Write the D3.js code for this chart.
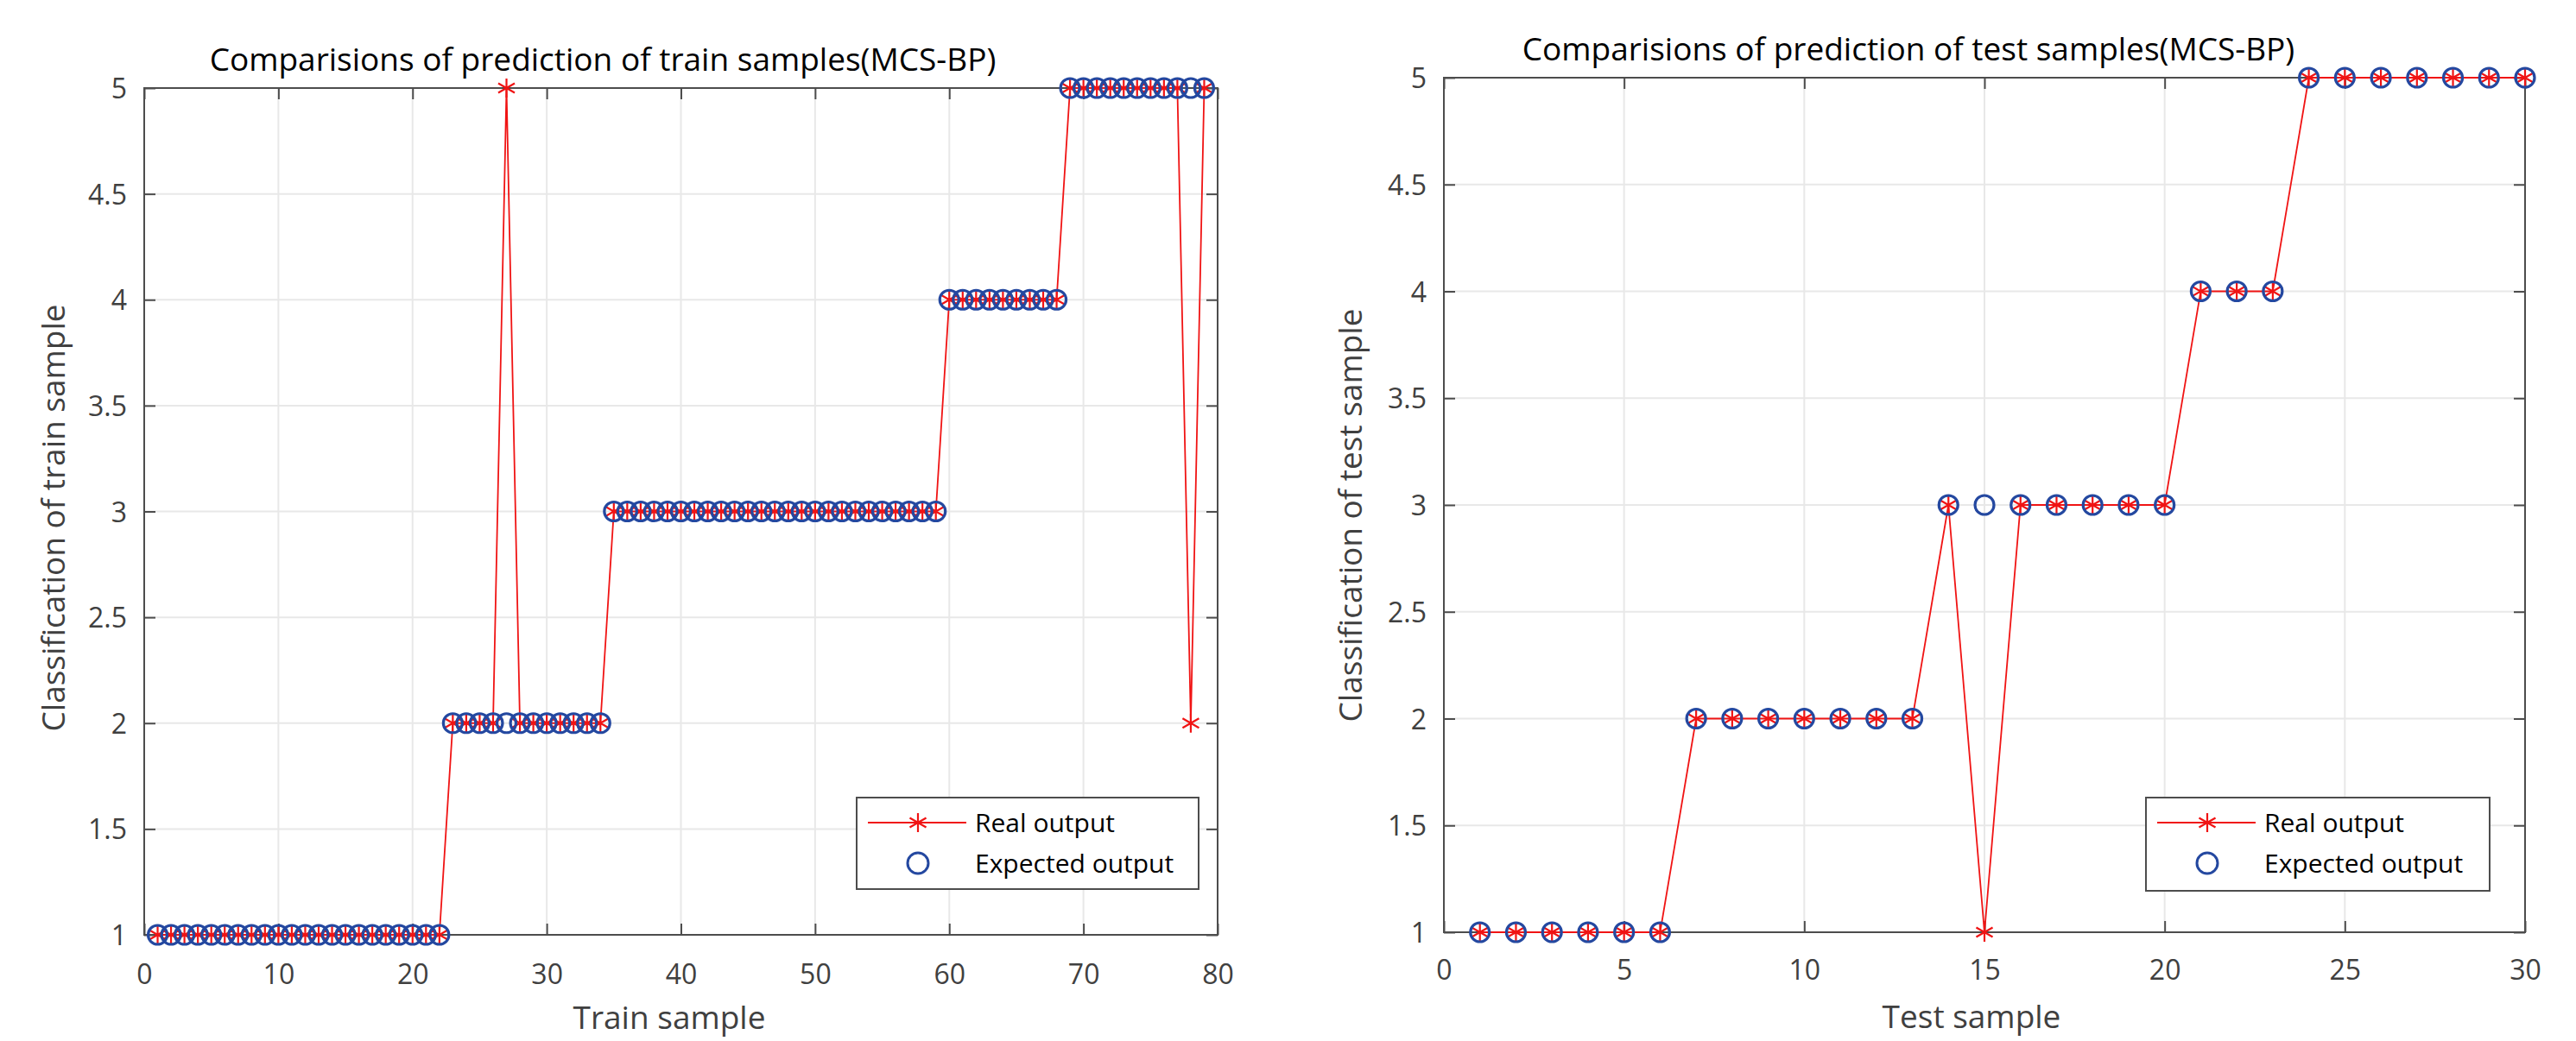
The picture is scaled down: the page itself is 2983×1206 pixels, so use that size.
<!DOCTYPE html>
<html><head><meta charset="utf-8">
<script src="https://cdn.jsdelivr.net/npm/d3@7"></script>
<style>
html,body{margin:0;padding:0;background:#fff;}
svg text{font-family:"Open Sans","Noto Sans",sans-serif;}
</style></head>
<body>
<svg id="chart" width="2983" height="1206"></svg>
<script>
// ---------- data ----------
const trainTitle = "Comparisions of prediction of train samples(MCS-BP)";
const testTitle = "Comparisions of prediction of test samples(MCS-BP)";
const trainXLabel = "Train sample";
const testXLabel = "Test sample";
const trainYLabel = "Classification of train sample";
const testYLabel = "Classification of test sample";
const legendLabels = ["Real output", "Expected output"];

const trainExpected = [
  1,1,1,1,1,1,1,1,1,1, 1,1,1,1,1,1,1,1,1,1, 1,1,
  2,2,2,2,2,2,2,2,2,2,2,2,
  3,3,3,3,3,3,3,3,3,3, 3,3,3,3,3,3,3,3,3,3, 3,3,3,3,3,
  4,4,4,4,4,4,4,4,4,
  5,5,5,5,5,5,5,5,5,5,5
];
const trainReal = [
  1,1,1,1,1,1,1,1,1,1, 1,1,1,1,1,1,1,1,1,1, 1,1,
  2,2,2,2,5,2,2,2,2,2,2,2,
  3,3,3,3,3,3,3,3,3,3, 3,3,3,3,3,3,3,3,3,3, 3,3,3,3,3,
  4,4,4,4,4,4,4,4,4,
  5,5,5,5,5,5,5,5,5,2,5
];
const testExpected = [
  1,1,1,1,1,1,
  2,2,2,2,2,2,2,
  3,3,3,3,3,3,3,
  4,4,4,
  5,5,5,5,5,5,5
];
const testReal = [
  1,1,1,1,1,1,
  2,2,2,2,2,2,2,
  3,1,3,3,3,3,3,
  4,4,4,
  5,5,5,5,5,5,5
];
const trainXTicks = [0,10,20,30,40,50,60,70,80];
const testXTicks = [0,5,10,15,20,25,30];
const yTicks = [1,1.5,2,2.5,3,3.5,4,4.5,5];

// ---------- style ----------
const RED = "#f01414";
const BLUE = "#2448a0";
const AXIS = "#4d4d4d";
const GRID = "#e8e8e8";
const TXT = "#404040";

const svg = d3.select("#chart");

function starPath(r){
  const a = Math.PI/6;
  const dx = r*Math.cos(a), dy = r*Math.sin(a);
  return `M0,${-r}L0,${r}M${-dx},${-dy}L${dx},${dy}M${-dx},${dy}L${dx},${-dy}`;
}

function panel(cfg){
  const g = svg.append("g");
  const x = d3.scaleLinear().domain(cfg.xDomain).range([cfg.x0, cfg.x1]);
  const y = d3.scaleLinear().domain([1,5]).range([cfg.y1, cfg.y0]);

  // grid
  g.append("g").selectAll("line.vg").data(cfg.xTicks).join("line")
    .attr("x1", d=>x(d)).attr("x2", d=>x(d)).attr("y1", cfg.y0).attr("y2", cfg.y1)
    .attr("stroke", GRID).attr("stroke-width", 2);
  g.append("g").selectAll("line.hg").data(yTicks).join("line")
    .attr("y1", d=>y(d)).attr("y2", d=>y(d)).attr("x1", cfg.x0).attr("x2", cfg.x1)
    .attr("stroke", GRID).attr("stroke-width", 2);

  // axes with inward ticks
  const tl = 13;
  const xb = g.append("g").attr("transform", `translate(0,${cfg.y1})`)
    .call(d3.axisBottom(x).tickValues(cfg.xTicks).tickSizeInner(-tl).tickSizeOuter(0).tickPadding(0).tickFormat(d3.format("d")));
  xb.select(".domain").remove();
  xb.selectAll("line").attr("stroke", AXIS).attr("stroke-width", 2);
  xb.selectAll("text").attr("font-size", 32).attr("fill", TXT)
    .attr("dy", null).attr("y", cfg.xTickBase - cfg.y1);

  const xt = g.append("g").attr("transform", `translate(0,${cfg.y0})`)
    .call(d3.axisTop(x).tickValues(cfg.xTicks).tickSizeInner(-tl).tickSizeOuter(0).tickFormat(""));
  xt.select(".domain").remove();
  xt.selectAll("line").attr("stroke", AXIS).attr("stroke-width", 2);

  const yl = g.append("g").attr("transform", `translate(${cfg.x0},0)`)
    .call(d3.axisLeft(y).tickValues(yTicks).tickSizeInner(-tl).tickSizeOuter(0).tickPadding(20).tickFormat(d3.format("~g")));
  yl.select(".domain").remove();
  yl.selectAll("line").attr("stroke", AXIS).attr("stroke-width", 2);
  yl.selectAll("text").attr("font-size", 32).attr("fill", TXT).attr("dy", "0.36em").attr("x", -20);

  const yr = g.append("g").attr("transform", `translate(${cfg.x1},0)`)
    .call(d3.axisRight(y).tickValues(yTicks).tickSizeInner(-tl).tickSizeOuter(0).tickFormat(""));
  yr.select(".domain").remove();
  yr.selectAll("line").attr("stroke", AXIS).attr("stroke-width", 2);

  // box
  g.append("rect").attr("x", cfg.x0).attr("y", cfg.y0)
    .attr("width", cfg.x1-cfg.x0).attr("height", cfg.y1-cfg.y0)
    .attr("fill", "none").attr("stroke", AXIS).attr("stroke-width", 2);

  // real output line
  const line = d3.line().x((d,i)=>x(i+1)).y(d=>y(d));
  g.append("path").datum(cfg.real).attr("d", line)
    .attr("fill", "none").attr("stroke", RED).attr("stroke-width", 1.8);
  g.append("g").selectAll("path").data(cfg.real).join("path")
    .attr("transform", (d,i)=>`translate(${x(i+1)},${y(d)})`)
    .attr("d", starPath(11)).attr("stroke", RED).attr("stroke-width", 2.2).attr("fill","none");
  // expected circles
  g.append("g").selectAll("circle").data(cfg.expected).join("circle")
    .attr("cx", (d,i)=>x(i+1)).attr("cy", d=>y(d)).attr("r", 11)
    .attr("fill", "none").attr("stroke", BLUE).attr("stroke-width", 3.2);

  // title and labels
  g.append("text").attr("x", cfg.titleX).attr("y", cfg.titleY).attr("text-anchor","middle")
    .attr("font-size", 37).attr("fill", "#000").text(cfg.title);
  g.append("text").attr("x", cfg.xLabelX).attr("y", cfg.xLabelY).attr("text-anchor","middle")
    .attr("font-size", 37).attr("fill", TXT).text(cfg.xLabel);
  g.append("text").attr("transform", `translate(${cfg.yLabelX},${cfg.yLabelY}) rotate(-90)`)
    .attr("text-anchor","middle").attr("dy","0.36em")
    .attr("font-size", 37).attr("fill", TXT).text(cfg.yLabel);

  // legend
  const L = cfg.legend;
  const lg = g.append("g");
  lg.append("rect").attr("x", L.x).attr("y", L.y).attr("width", L.w).attr("height", L.h)
    .attr("fill", "#fff").attr("stroke", AXIS).attr("stroke-width", 2);
  const r1 = L.y + 29, r2 = L.y + 76;
  lg.append("line").attr("x1", L.x+13).attr("x2", L.x+127).attr("y1", r1).attr("y2", r1)
    .attr("stroke", RED).attr("stroke-width", 1.8);
  lg.append("path").attr("transform", `translate(${L.x+71},${r1})`).attr("d", starPath(11))
    .attr("stroke", RED).attr("stroke-width", 2.2).attr("fill","none");
  lg.append("circle").attr("cx", L.x+71).attr("cy", r2).attr("r", 12)
    .attr("fill","none").attr("stroke", BLUE).attr("stroke-width", 3);
  lg.append("text").attr("x", L.x+137).attr("y", r1).attr("dy","0.36em")
    .attr("font-size", 30).attr("fill","#000").text(legendLabels[0]);
  lg.append("text").attr("x", L.x+137).attr("y", r2).attr("dy","0.36em")
    .attr("font-size", 30).attr("fill","#000").text(legendLabels[1]);
}

panel({
  x0:167, x1:1410, y0:102, y1:1083, xDomain:[0,80], xTicks:trainXTicks,
  real:trainReal, expected:trainExpected,
  xTickBase:1140,
  title:trainTitle, titleX:698, titleY:82,
  xLabel:trainXLabel, xLabelX:775, xLabelY:1192,
  yLabel:trainYLabel, yLabelX:62, yLabelY:600,
  legend:{x:992, y:924, w:396, h:106}
});
panel({
  x0:1672, x1:2924, y0:90, y1:1080, xDomain:[0,30], xTicks:testXTicks,
  real:testReal, expected:testExpected,
  xTickBase:1135,
  title:testTitle, titleX:2210, titleY:70,
  xLabel:testXLabel, xLabelX:2283, xLabelY:1191,
  yLabel:testYLabel, yLabelX:1564, yLabelY:597,
  legend:{x:2485, y:924, w:398, h:108}
});
</script>
</body></html>
